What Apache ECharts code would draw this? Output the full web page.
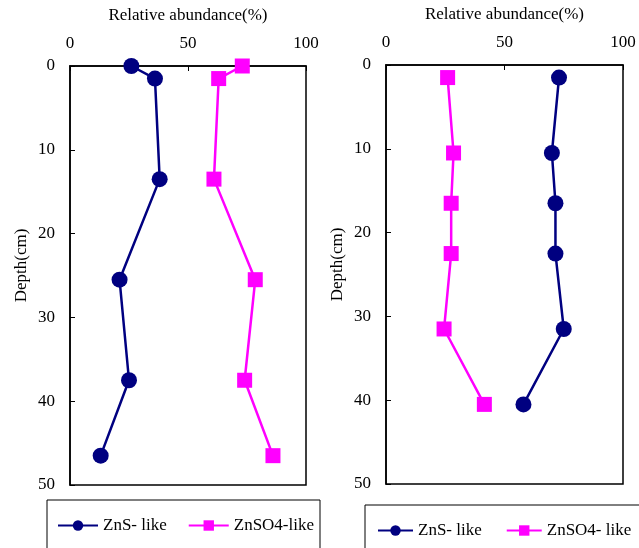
<!DOCTYPE html>
<html>
<head>
<meta charset="utf-8">
<script src="https://cdn.jsdelivr.net/npm/echarts@6/dist/echarts.min.js"></script>
<style>
html,body{margin:0;padding:0;background:#fff;}
#chart{width:639px;height:548px;}
</style>
</head>
<body>
<div id="chart"></div>
<script>
// ---- data ----
const leftDepth = [0, 1.5, 13.5, 25.5, 37.5, 46.5];
const leftZnS = [26, 36, 38, 21, 25, 13];
const leftZnSO4 = [73, 63, 61, 78.5, 74, 86];

const rightDepth = [1.5, 10.5, 16.5, 22.5, 31.5, 40.5];
const rightZnS = [73, 70, 71.5, 71.5, 75, 58];
const rightZnSO4 = [26, 28.5, 27.5, 27.5, 24.5, 41.5];

const xTitle = 'Relative abundance(%)';
const yTitle = 'Depth(cm)';
const leftNames = ['ZnS- like', 'ZnSO4-like'];
const rightNames = ['ZnS- like', 'ZnSO4- like'];

const FONT = 'Liberation Serif';
const FS = 17;
const NAVY = '#000080';
const MAGENTA = '#FF00FF';

function pairs(xs, ys) { return xs.map((v, i) => [v, ys[i]]); }

function xAxisCfg(gi) {
  return {
    gridIndex: gi, type: 'value', position: 'top', min: 0, max: 100, interval: 50,
    name: xTitle, nameLocation: 'middle', nameGap: 42,
    nameTextStyle: {fontFamily: FONT, fontSize: FS, color: '#000'},
    axisLine: {show: true, lineStyle: {color: '#000', width: 1.5}},
    axisTick: {show: true, inside: true, length: 5, lineStyle: {color: '#000'}},
    axisLabel: {fontFamily: FONT, fontSize: FS, color: '#000', margin: 14},
    splitLine: {show: false}
  };
}
function yAxisCfg(gi) {
  return {
    gridIndex: gi, type: 'value', inverse: true, min: 0, max: 50, interval: 10,
    name: yTitle, nameLocation: 'middle', nameGap: 40, nameRotate: 90,
    nameTextStyle: {fontFamily: FONT, fontSize: FS, color: '#000', padding: [0, 0, 0, 20]},
    axisLine: {show: true, lineStyle: {color: '#000', width: 1.5}},
    axisTick: {show: true, inside: true, length: 5, lineStyle: {color: '#000'}},
    axisLabel: {fontFamily: FONT, fontSize: FS, color: '#000', margin: 15},
    splitLine: {show: false}
  };
}
function lineSeries(name, gi, xs, ys, color, symbol, size) {
  return {
    name: name, type: 'line', xAxisIndex: gi, yAxisIndex: gi,
    data: pairs(xs, ys), clip: false,
    symbol: symbol, symbolSize: size, showSymbol: true,
    lineStyle: {color: color, width: 2.5},
    itemStyle: {color: color},
    emphasis: {disabled: true},
    animation: false
  };
}

const chart = echarts.init(document.getElementById('chart'));
chart.setOption({
  backgroundColor: '#fff',
  animation: false,
  grid: [
    {left: 70, top: 66, width: 236, height: 419, show: true, borderColor: '#000', borderWidth: 1.5},
    {left: 386, top: 65, width: 237, height: 419, show: true, borderColor: '#000', borderWidth: 1.5}
  ],
  xAxis: [xAxisCfg(0), xAxisCfg(1)],
  yAxis: [yAxisCfg(0), yAxisCfg(1)],
  legend: [
    {
      data: leftNames, left: 47, top: 500, orient: 'horizontal',
      padding: [17, 6, 20, 10], itemGap: 21, itemWidth: 40, itemHeight: 13,
      borderColor: '#000', borderWidth: 1, backgroundColor: '#fff',
      textStyle: {fontFamily: FONT, fontSize: FS, color: '#000'}
    },
    {
      data: rightNames.slice(), left: 365, top: 505, width: 330, orient: 'horizontal',
      padding: [17, 10, 20, 12], itemGap: 24, itemWidth: 35, itemHeight: 13,
      borderColor: '#000', borderWidth: 1, backgroundColor: '#fff',
      textStyle: {fontFamily: FONT, fontSize: FS, color: '#000'}
    }
  ],
  series: [
    lineSeries(leftNames[0], 0, leftZnS, leftDepth, NAVY, 'circle', 16),
    lineSeries(leftNames[1], 0, leftZnSO4, leftDepth, MAGENTA, 'rect', 15),
    lineSeries(rightNames[0], 1, rightZnS, rightDepth, NAVY, 'circle', 16),
    lineSeries(rightNames[1], 1, rightZnSO4, rightDepth, MAGENTA, 'rect', 15)
  ]
});
</script>
</body>
</html>
